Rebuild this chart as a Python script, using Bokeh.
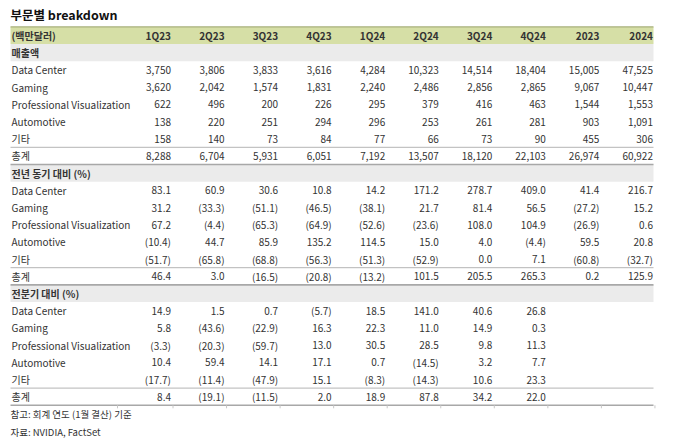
from bokeh.plotting import figure
from bokeh.models import Range1d
from bokeh.core.properties import value
from bokeh.embed import file_html
from bokeh.resources import INLINE

# ---------------- data ----------------
title_text = "부문별 breakdown"
unit_label = "(백만달러)"
columns = ["1Q23", "2Q23", "3Q23", "4Q23", "1Q24", "2Q24", "3Q24", "4Q24", "2023", "2024"]
segments = ["Data Center", "Gaming", "Professional Visualization", "Automotive", "기타", "총계"]
section_titles = ["매출액", "전년 동기 대비 (%)", "전분기 대비 (%)"]

rev_data_center = [3750, 3806, 3833, 3616, 4284, 10323, 14514, 18404, 15005, 47525]
rev_gaming = [3620, 2042, 1574, 1831, 2240, 2486, 2856, 2865, 9067, 10447]
rev_proviz = [622, 496, 200, 226, 295, 379, 416, 463, 1544, 1553]
rev_auto = [138, 220, 251, 294, 296, 253, 261, 281, 903, 1091]
rev_other = [158, 140, 73, 84, 77, 66, 73, 90, 455, 306]
rev_total = [8288, 6704, 5931, 6051, 7192, 13507, 18120, 22103, 26974, 60922]

yoy_data_center = [83.1, 60.9, 30.6, 10.8, 14.2, 171.2, 278.7, 409.0, 41.4, 216.7]
yoy_gaming = [31.2, -33.3, -51.1, -46.5, -38.1, 21.7, 81.4, 56.5, -27.2, 15.2]
yoy_proviz = [67.2, -4.4, -65.3, -64.9, -52.6, -23.6, 108.0, 104.9, -26.9, 0.6]
yoy_auto = [-10.4, 44.7, 85.9, 135.2, 114.5, 15.0, 4.0, -4.4, 59.5, 20.8]
yoy_other = [-51.7, -65.8, -68.8, -56.3, -51.3, -52.9, 0.0, 7.1, -60.8, -32.7]
yoy_total = [46.4, 3.0, -16.5, -20.8, -13.2, 101.5, 205.5, 265.3, 0.2, 125.9]

qoq_data_center = [14.9, 1.5, 0.7, -5.7, 18.5, 141.0, 40.6, 26.8]
qoq_gaming = [5.8, -43.6, -22.9, 16.3, 22.3, 11.0, 14.9, 0.3]
qoq_proviz = [-3.3, -20.3, -59.7, 13.0, 30.5, 28.5, 9.8, 11.3]
qoq_auto = [10.4, 59.4, 14.1, 17.1, 0.7, -14.5, 3.2, 7.7]
qoq_other = [-17.7, -11.4, -47.9, 15.1, -8.3, -14.3, 10.6, 23.3]
qoq_total = [8.4, -19.1, -11.5, 2.0, 18.9, 87.8, 34.2, 22.0]

notes = ["참고: 회계 연도 (1월 결산) 기준", "자료: NVIDIA, FactSet"]

sections = [
    [rev_data_center, rev_gaming, rev_proviz, rev_auto, rev_other, rev_total],
    [yoy_data_center, yoy_gaming, yoy_proviz, yoy_auto, yoy_other, yoy_total],
    [qoq_data_center, qoq_gaming, qoq_proviz, qoq_auto, qoq_other, qoq_total],
]


def fmt_rev(v):
    return f"{v:,}"


def fmt_pct(v):
    return f"({abs(v):.1f})" if v < 0 else f"{v:.1f}"


formatters = [fmt_rev, fmt_pct, fmt_pct]

# ---------------- layout (pixel-like coordinates) ----------------
W, H = 668, 440
ROW0, STEP = 35.0, 17.2
HALF = STEP / 2
LEFT, RIGHT = 10, 653
COL0, CSTEP = 170.5, 53.55
LABEL_BOUND = 117

FONT = value("Noto Sans CJK KR")
TXT = "#333333"
FS = "10px"

p = figure(width=W, height=H, output_backend="svg", toolbar_location=None,
           x_range=Range1d(0, W), y_range=Range1d(H, 0),
           min_border=0, outline_line_color=None)
p.axis.visible = False
p.grid.visible = False
p.background_fill_color = "white"
p.border_fill_color = "white"


def row_y(i):
    return ROW0 + STEP * i


def col_x(k):
    return COL0 + CSTEP * k


# header band
p.quad(left=[LEFT], right=[RIGHT], top=[row_y(0) - HALF], bottom=[row_y(0) + HALF],
       fill_color="#d6dfa6", line_color=None)
p.segment(x0=[LEFT], x1=[RIGHT], y0=[row_y(0) - HALF], y1=[row_y(0) - HALF],
          line_color="#a7b07a", line_width=1.2)

sec_rows = [1 + 7 * s for s in range(3)]
total_rows = [r + 6 for r in sec_rows]

# section bands
p.quad(left=[LEFT] * 3, right=[RIGHT] * 3,
       top=[row_y(r) - HALF for r in sec_rows], bottom=[row_y(r) + HALF for r in sec_rows],
       fill_color="#ebebeb", line_color=None)

# lines above totals
p.segment(x0=[LEFT] * 3, x1=[RIGHT] * 3,
          y0=[row_y(r) - HALF for r in total_rows], y1=[row_y(r) - HALF for r in total_rows],
          line_color="#b4b4b4", line_width=1)
# lines below totals
p.segment(x0=[LEFT] * 3, x1=[RIGHT] * 3,
          y0=[row_y(r) + HALF for r in total_rows], y1=[row_y(r) + HALF for r in total_rows],
          line_color="#a8a8a8", line_width=1.6)

# little cell-border ticks under the last line
tick_x = [LABEL_BOUND] + [col_x(k) + 2 for k in range(len(columns))]
yb = row_y(total_rows[-1]) + HALF
p.segment(x0=tick_x, x1=tick_x, y0=[yb] * len(tick_x), y1=[yb + 3] * len(tick_x),
          line_color="#c8c8c8", line_width=1)

# title
p.text(x=[LEFT], y=[14], text=[title_text], text_font=FONT, text_font_size="12.5px",
       text_font_style="bold", text_color="#111111", text_baseline="middle", text_align="left")

# header texts
p.text(x=[LEFT + 1], y=[row_y(0)], text=[unit_label], text_font=FONT, text_font_size=FS,
       text_font_style="bold", text_color=TXT, text_baseline="middle")
p.text(x=[col_x(k) for k in range(len(columns))], y=[row_y(0)] * len(columns), text=columns,
       text_font=FONT, text_font_size=FS, text_font_style="bold", text_color=TXT,
       text_baseline="middle", text_align="right")

# section titles
p.text(x=[LEFT + 1] * 3, y=[row_y(r) for r in sec_rows], text=section_titles, text_font=FONT,
       text_font_size=FS, text_font_style="bold", text_color=TXT, text_baseline="middle")

# row labels and values
lx, ly, lt = [], [], []
vx, vy, vt = [], [], []
for s, rows in enumerate(sections):
    for j, (lab, vals) in enumerate(zip(segments, rows)):
        y = row_y(sec_rows[s] + 1 + j)
        lx.append(LEFT + 1); ly.append(y); lt.append(lab)
        for k, v in enumerate(vals):
            vx.append(col_x(k)); vy.append(y); vt.append(formatters[s](v))

p.text(x=lx, y=ly, text=lt, text_font=FONT, text_font_size=FS,
       text_color=TXT, text_baseline="middle")
p.text(x=vx, y=vy, text=vt, text_font=FONT, text_font_size=FS,
       text_color=TXT, text_baseline="middle", text_align="right")

# notes
p.text(x=[LEFT, LEFT], y=[413, 431], text=notes, text_font=FONT, text_font_size="9.5px",
       text_color="#333333", text_baseline="middle")

open("out.html", "w").write(file_html(p, INLINE))
